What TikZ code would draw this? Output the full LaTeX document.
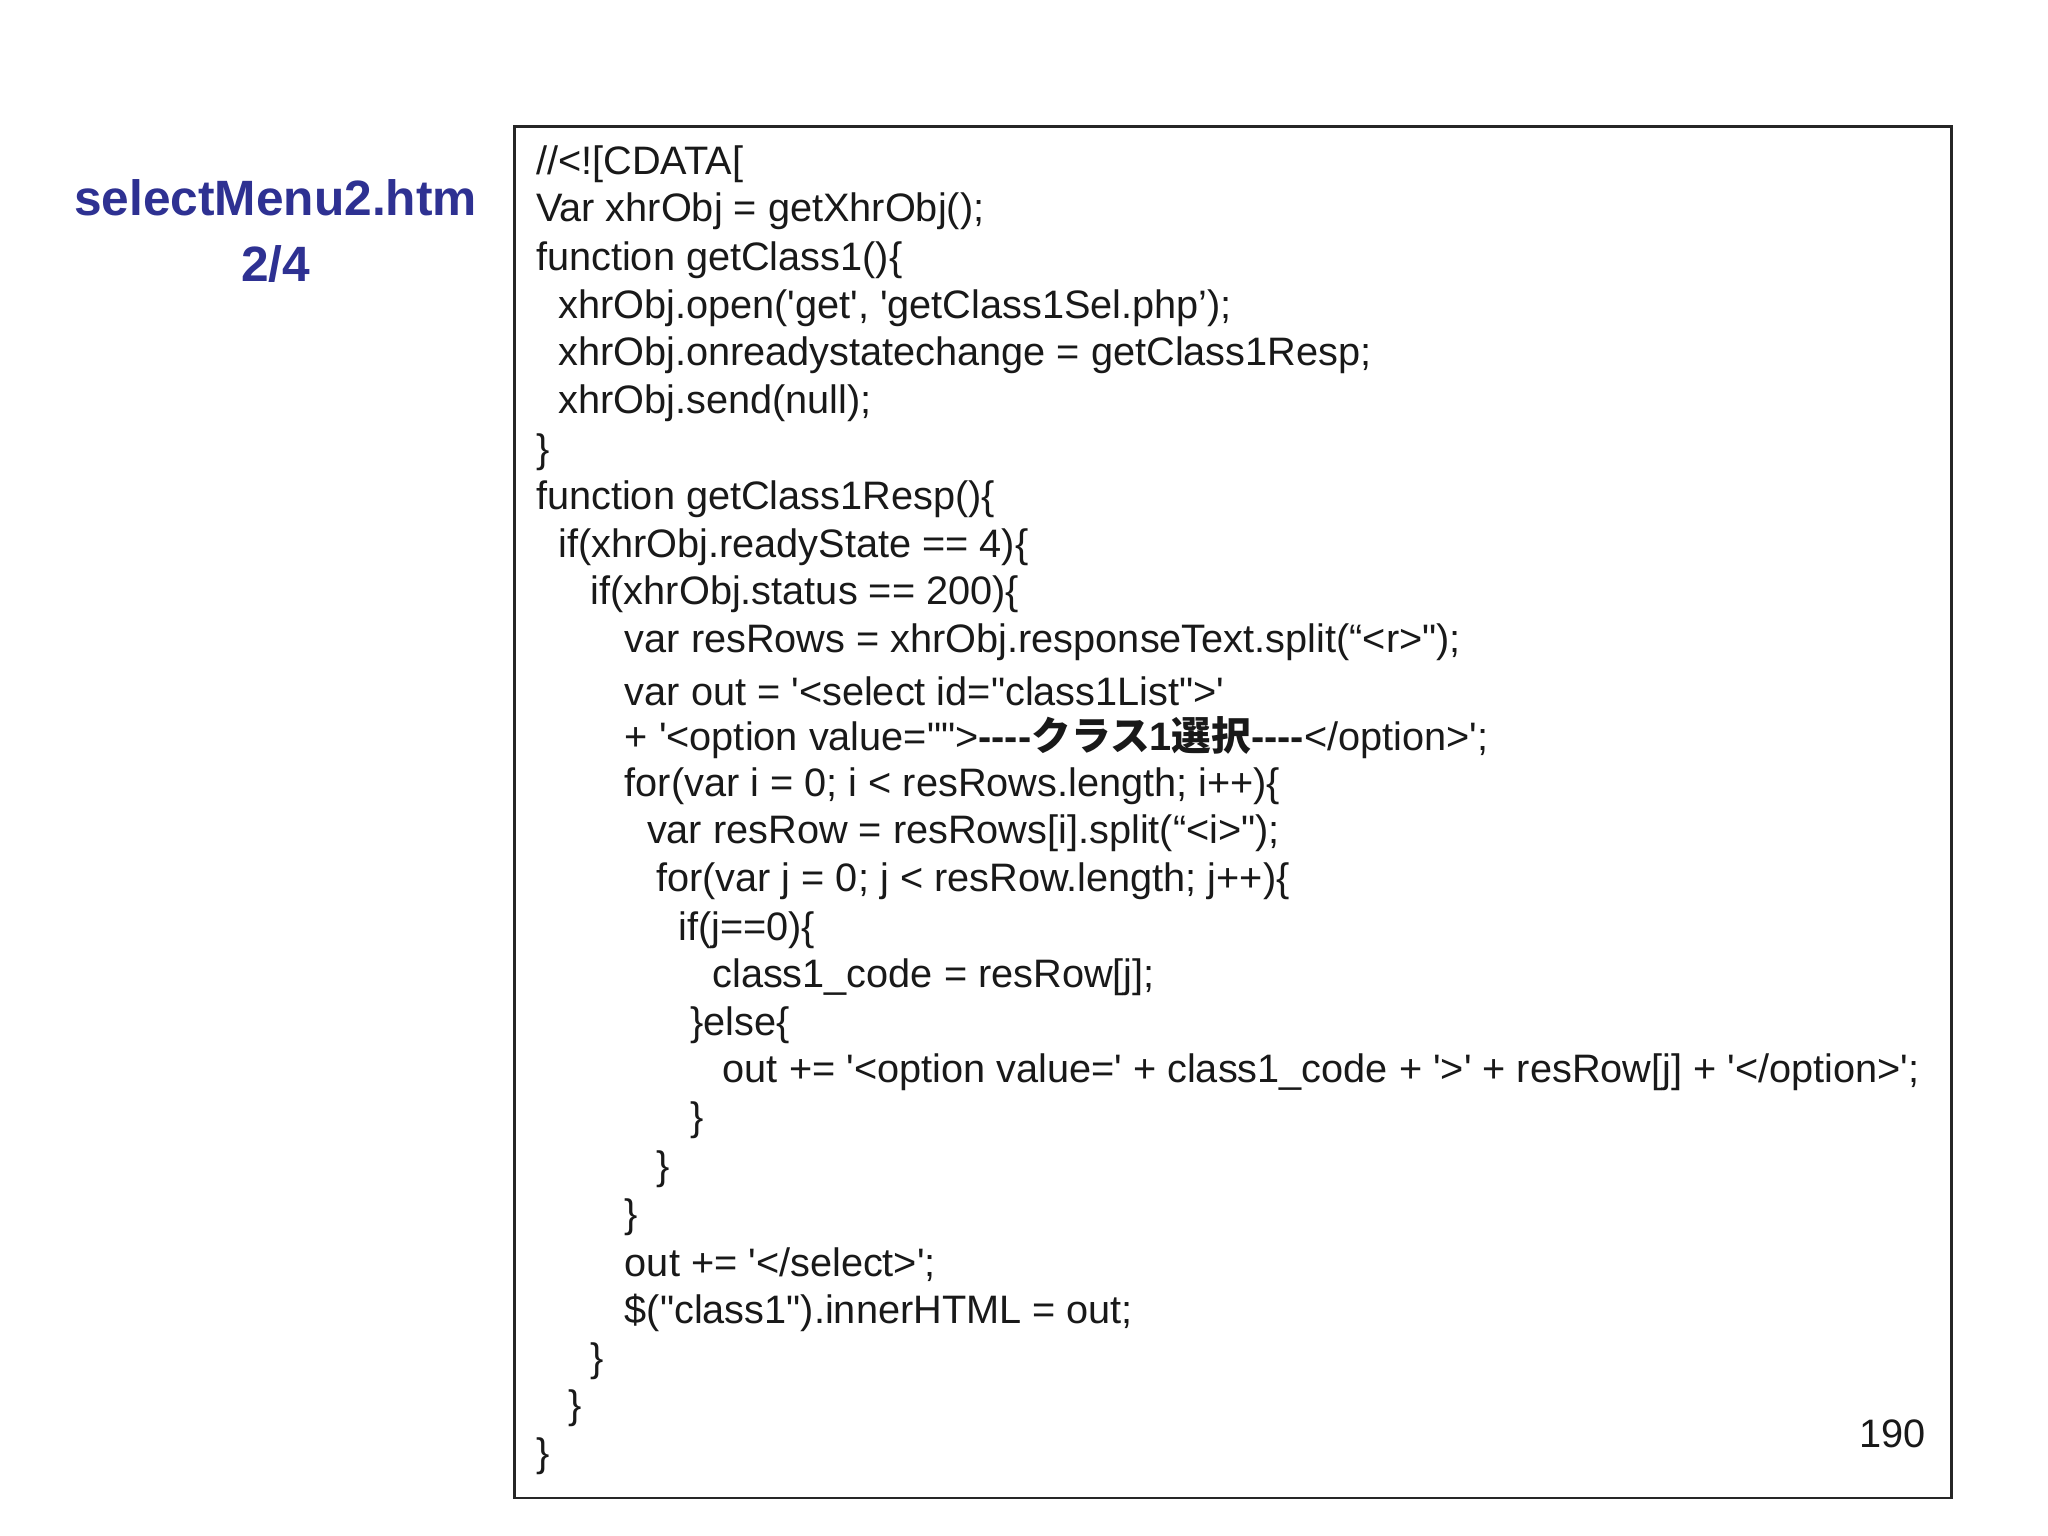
\documentclass[tikz,border=0pt]{standalone}
\usepackage{fontspec}
\newfontfamily\code{Liberation Sans}
\newfontfamily\jp{Noto Sans CJK JP}
\definecolor{ttl}{HTML}{2E3192}
\begin{document}
\begin{tikzpicture}[x=0.5pt,y=0.5pt,
  ln/.style={anchor=west,inner sep=0pt,font=\code\fontsize{15.2}{18}\selectfont,text=black!90}]
\useasboundingbox[fill=white] (0,0) rectangle (1568,1176);
\node[font=\code\bfseries\fontsize{19}{23}\selectfont,text=ttl,align=center] (title) at (211,999) {selectMenu2.htm\\[2pt]2/4};
\draw[line width=1pt,black!85] (394,29) rectangle (1494,1079);
\foreach \x/\y/\t [count=\i] in {
410/124/{//<![CDATA[},
410/160/{Var xhrObj = getXhrObj();},
410/197/{function getClass1()\{},
427/234/{xhrObj.open('get', 'getClass1Sel.php’);},
427/270/{xhrObj.onreadystatechange = getClass1Resp;},
427/307/{xhrObj.send(null);},
410/344/{\}},
410/380/{function getClass1Resp()\{},
427/417/{if(xhrObj.readyState == 4)\{},
452/453/{if(xhrObj.status == 200)\{},
478/490/{var resRows = xhrObj.responseText.split(“<r>");},
478/527/{var out = '<select id="class1List">'},
478/563/{+ '<option value="">{\bfseries----{\jp クラス}1{\jp 選択}----}</option>';},
478/600/{for(var i = 0; i < resRows.length; i++)\{},
495/636/{var resRow = resRows[i].split(“<i>");},
502/673/{for(var j = 0; j < resRow.length; j++)\{},
519/710/{if(j==0)\{},
545/746/{class1\_code = resRow[j];},
528/783/{\}else\{},
553/819/{out += '<option value=' + class1\_code + '>' + resRow[j] + '</option>';},
528/856/{\}},
502/893/{\}},
478/930/{\}},
478/966/{out += '</select>';},
478/1003/{\$("class1").innerHTML = out;},
452/1040/{\}},
435/1076/{\}},
410/1113/{\}}}
  \node[ln] (l\i) at (\x,1174-\y) {\t};
\node[ln,anchor=center] (pg) at (1449,1175-1097) {190};
\end{tikzpicture}
\end{document}
